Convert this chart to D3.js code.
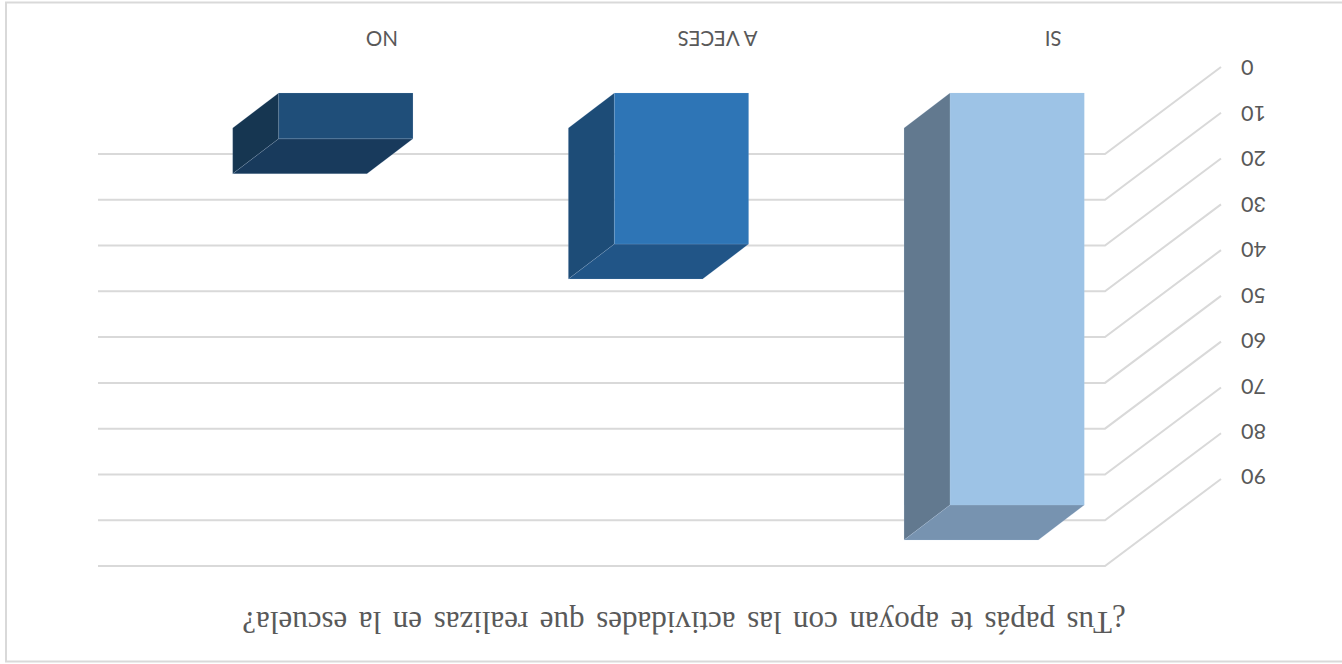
<!DOCTYPE html>
<html><head><meta charset="utf-8">
<script src="https://cdn.jsdelivr.net/npm/d3@7"></script>
<style>html,body{margin:0;padding:0;background:#fff;overflow:hidden}svg{display:block}</style>
</head><body><div id="chart"></div>
<script>
const categories = ["SI", "A VECES", "NO"];
const seriesValues = [90, 33, 10];
const tickValues = [0, 10, 20, 30, 40, 50, 60, 70, 80, 90];
const titleText = "¿Tus papás te apoyan con las actividades que realizas en la escuela?";
const frontColors = ["#9dc3e6", "#2e75b6", "#1f4e79"];
const sideColors = ["#62798f", "#1d4c77", "#163651"];
const topColors = ["#7793b0", "#215587", "#183a5c"];

const W = 1342, H = 664;
const svg = d3.select("#chart").append("svg").attr("width", W).attr("height", H);
svg.append("rect").attr("width", W).attr("height", H).attr("fill", "#fff");
// The whole chart is photographed upside down.
const root = svg.append("g").attr("transform", `rotate(180 ${W/2} ${H/2})`);

root.append("rect").attr("x", -10).attr("y", 2.5).attr("width", 1346).attr("height", 659)
  .attr("fill", "#fff").attr("stroke", "#d9d9d9").attr("stroke-width", 2);

const wallY = d3.scaleLinear().domain([0, 90]).range([510, 98]);
const barY = d3.scaleLinear().domain([0, 90]).range([571, 159]);
const tickY = d3.scaleLinear().domain([0, 90]).range([596, 187]);
const wallX = [237, 1244], floorDX = -116, floorDY = 87;
const barX = d3.scaleBand().domain(categories).range([157, 1164]).paddingInner(0.6).paddingOuter(0.3);
const labelX = d3.scaleBand().domain(categories).range([wallX[0] + floorDX, wallX[1] + floorDX]);
const depthX = 46, depthY = -35;

root.append("g").selectAll("path").data(tickValues).join("path")
  .attr("fill", "none").attr("stroke", "#d9d9d9").attr("stroke-width", 2)
  .attr("d", v => d3.line()([[wallX[1], wallY(v)], [wallX[0], wallY(v)], [wallX[0] + floorDX, wallY(v) + floorDY]]));

const font = "Lato, Carlito, sans-serif";
root.append("g").selectAll("text").data(tickValues).join("text")
  .attr("x", 101).attr("y", v => tickY(v)).attr("dy", "0.35em")
  .attr("text-anchor", "end").attr("font-family", font).attr("font-size", 21.5).attr("fill", "#595959")
  .text(d => d);

const edge = "rgba(190,215,240,0.18)";
const bars = root.append("g").selectAll("g").data(categories).join("g")
  .attr("stroke", edge).attr("stroke-width", 0.8).attr("stroke-linejoin", "round");
bars.append("path").attr("fill", (d, i) => sideColors[i])
  .attr("d", (d, i) => {
    const r = barX(d) + barX.bandwidth();
    return d3.line()([[r, barY(0)], [r + depthX, barY(0) + depthY], [r + depthX, barY(seriesValues[i]) + depthY], [r, barY(seriesValues[i])]]) + "Z";
  });
bars.append("path").attr("fill", (d, i) => topColors[i])
  .attr("d", (d, i) => {
    const l = barX(d), r = l + barX.bandwidth(), y = barY(seriesValues[i]);
    return d3.line()([[l, y], [r, y], [r + depthX, y + depthY], [l + depthX, y + depthY]]) + "Z";
  });
bars.append("rect").attr("fill", (d, i) => frontColors[i])
  .attr("x", d => barX(d)).attr("width", barX.bandwidth())
  .attr("y", (d, i) => barY(seriesValues[i]))
  .attr("height", (d, i) => barY(0) - barY(seriesValues[i]));

root.append("g").selectAll("text").data(categories).join("text")
  .attr("x", d => labelX(d) + labelX.bandwidth() / 2).attr("y", 626).attr("dy", "0.35em")
  .attr("text-anchor", "middle").attr("font-family", font).attr("font-size", 20.5).attr("fill", "#595959")
  .text(d => d);

root.append("text").attr("x", 658).attr("y", 52).attr("text-anchor", "middle")
  .attr("font-family", "'Liberation Serif', serif").attr("font-size", 31).attr("word-spacing", 3.8).attr("fill", "#595959")
  .text(titleText);
</script></body></html>
